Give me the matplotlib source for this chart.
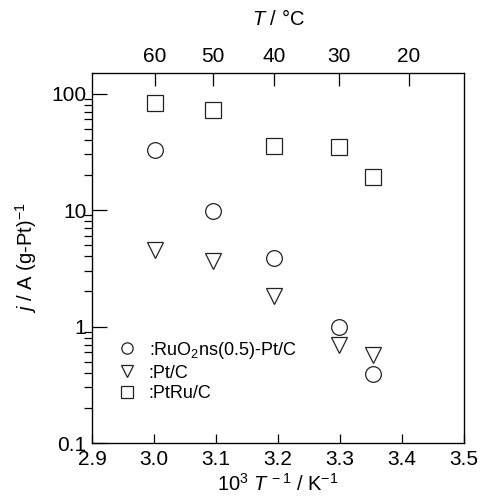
import matplotlib
matplotlib.use("Agg")
import matplotlib.pyplot as plt
from matplotlib.ticker import FixedLocator, NullFormatter

plt.rcParams['font.family'] = ['Liberation Sans', 'DejaVu Sans']
plt.rcParams['mathtext.fontset'] = 'custom'
plt.rcParams['mathtext.rm'] = 'Liberation Sans'
plt.rcParams['mathtext.it'] = 'Liberation Sans:italic'

# data (x = 10^3 / T in K^-1, y = j in A (g-Pt)^-1)
inv_T = [3.002, 3.095, 3.193, 3.299, 3.354]
j_ruo2 = [33.0, 9.8, 3.85, 0.99, 0.39]
j_ptc = [4.5, 3.65, 1.83, 0.69, 0.57]
j_ptru = [83.5, 71.5, 35.5, 34.5, 19.1]

labels = [':RuO$_2$ns(0.5)-Pt/C', ':Pt/C', ':PtRu/C']
top_celsius = [60, 50, 40, 30, 20]
y_ticks = [0.1, 1, 10, 100]
y_ticklabels = ['0.1', '1', '10', '100']
x_ticks = [2.9, 3.0, 3.1, 3.2, 3.3, 3.4, 3.5]

fig = plt.figure(figsize=(4.81, 4.99), dpi=100)
ax = fig.add_axes([0.1913, 0.1122, 0.7734, 0.7415])

mk = dict(linestyle='none', markersize=11.3, markerfacecolor='white',
          markeredgecolor='#222222', markeredgewidth=0.9)
ax.plot(inv_T, j_ruo2, marker='o', label=labels[0], **mk)
ax.plot(inv_T, j_ptc, marker='v', label=labels[1], **mk)
ax.plot(inv_T, j_ptru, marker='s', label=labels[2], **mk)

ax.set_yscale('log')
ax.set_xlim(2.9, 3.5)
ax.set_ylim(0.1, 150)
ax.set_xticks(x_ticks)
ax.set_xticklabels(['%.1f' % v for v in x_ticks])
ax.yaxis.set_major_locator(FixedLocator(y_ticks))
ax.set_yticklabels(y_ticklabels)
ax.yaxis.set_minor_locator(FixedLocator([m * 10.0 ** e for e in range(-1, 2) for m in range(2, 10)]))
ax.yaxis.set_minor_formatter(NullFormatter())

ax.tick_params(axis='both', labelsize=15, direction='in', top=False, right=False)
ax.tick_params(axis='x', length=6.5, width=0.9, pad=5)
ax.tick_params(axis='y', which='major', length=11, width=0.9, pad=4)
ax.tick_params(axis='y', which='minor', length=6, width=0.9)
for s in ax.spines.values():
    s.set_linewidth(0.9)

ax.set_xlabel(r'10$^3$ $T^{\,-1}$ / K$^{-1}$', fontsize=14.5, labelpad=3)
ax.set_ylabel(r'$j$ / A (g-Pt)$^{-1}$', fontsize=14.5, labelpad=9)

# top axis: temperature in deg C
ax2 = ax.twiny()
ax2.set_xlim(ax.get_xlim())
ax2.set_xticks([1000.0 / (t + 273.15) for t in top_celsius])
ax2.set_xticklabels([str(t) for t in top_celsius])
ax2.tick_params(axis='x', labelsize=15, direction='in', length=9, width=0.9, pad=5)
ax2.set_xlabel(r'$T$ / °C', fontsize=14.5, labelpad=16)

ax.legend(loc='lower left', bbox_to_anchor=(0.05, 0.09), frameon=False,
          fontsize=13, markerscale=0.72, handlelength=1.0, handletextpad=0.7,
          labelspacing=0.22, borderaxespad=0)

fig.savefig('out.png', dpi=100)
